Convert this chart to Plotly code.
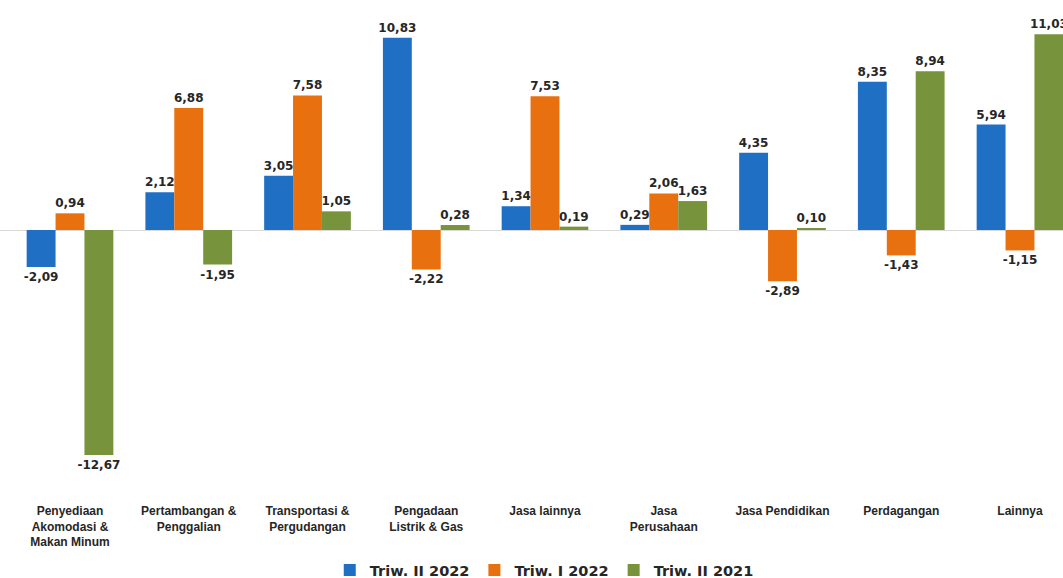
import plotly.graph_objects as go

categories = [
    "Penyediaan<br>Akomodasi &<br>Makan Minum",
    "Pertambangan &<br>Penggalian",
    "Transportasi &<br>Pergudangan",
    "Pengadaan<br>Listrik & Gas",
    "Jasa lainnya",
    "Jasa<br>Perusahaan",
    "Jasa Pendidikan",
    "Perdagangan",
    "Lainnya",
]
series_names = ["Triw. II 2022", "Triw. I 2022", "Triw. II 2021"]
triw2_2022 = [-2.09, 2.12, 3.05, 10.83, 1.34, 0.29, 4.35, 8.35, 5.94]
triw1_2022 = [0.94, 6.88, 7.58, -2.22, 7.53, 2.06, -2.89, -1.43, -1.15]
triw2_2021 = [-12.67, -1.95, 1.05, 0.28, 0.19, 1.63, 0.10, 8.94, 11.03]
colors = ["#1F70C5", "#E8700F", "#77933C"]

x_idx = list(range(len(categories)))

def fmt(v):
    return "<b>" + f"{v:.2f}".replace(".", ",") + "</b>"

fig = go.Figure()
for name, vals, col in zip(series_names, [triw2_2022, triw1_2022, triw2_2021], colors):
    fig.add_trace(go.Bar(
        x=x_idx, y=vals, name=f"<b>{name}</b>",
        marker=dict(color=col, line=dict(width=0)),
        text=[fmt(v) for v in vals],
        textposition="outside",
        textangle=0,
        constraintext="none",
        cliponaxis=False,
        textfont=dict(family="DejaVu Sans", size=12, color="#262626"),
    ))

H = 578
plot_h = 498
fig.update_layout(
    width=1063, height=H,
    margin=dict(l=0, r=0, t=0, b=0, autoexpand=False),
    paper_bgcolor="white", plot_bgcolor="white",
    barmode="group", bargap=0.27, bargroupgap=0,
    showlegend=True,
    legend=dict(
        orientation="h", x=0.512, xanchor="center", y=(H - 570) / H, yanchor="middle",
        font=dict(family="DejaVu Sans", size=14.5, color="#262626"),
        itemwidth=30,
    ),
    xaxis=dict(
        tickvals=x_idx, ticktext=[f"<b>{c}</b>" for c in categories],
        range=[-0.5895, 8.3621],
        showgrid=False, zeroline=False, showline=False, ticks="",
        ticklabelstandoff=4, automargin=False,
        tickfont=dict(family="Liberation Sans", size=12, color="#262626"),
    ),
    yaxis=dict(
        domain=[1 - plot_h / H, 1],
        range=[-(plot_h - 230) / 17.75, 230 / 17.75],
        showticklabels=False, showgrid=False, automargin=False,
        zeroline=True, zerolinecolor="#D9D9D9", zerolinewidth=1,
        showline=False, ticks="",
    ),
    font=dict(family="Liberation Sans"),
)

fig.write_html("out.html")
